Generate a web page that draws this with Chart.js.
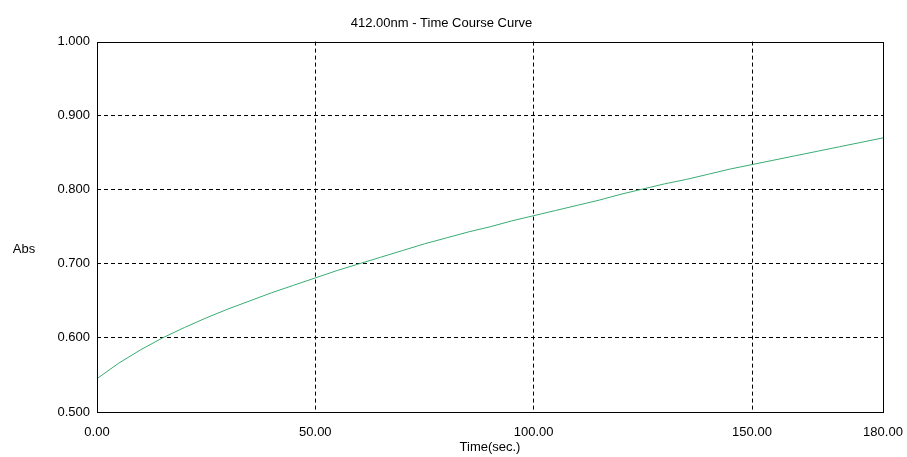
<!DOCTYPE html>
<html>
<head>
<meta charset="utf-8">
<script src="https://cdn.jsdelivr.net/npm/chart.js@4.4.1/dist/chart.umd.min.js"></script>
<style>
  body { margin: 0; background: #fff; }
  #chart { display: block; }
</style>
</head>
<body>
<canvas id="chart" width="907" height="457"></canvas>
<script>
// Datos (tiempo en s, absorbancia)
var tiempos = [0, 5, 10, 15, 20, 25, 30, 35, 40, 45, 50, 55, 60, 65, 70, 75, 80, 85, 90,
    95, 100, 105, 110, 115, 120, 125, 130, 135, 140, 145, 150, 155, 160, 165, 170, 175, 180];
var absorbancia = [0.545, 0.566, 0.584, 0.600, 0.614, 0.627, 0.639, 0.650, 0.661, 0.671,
    0.681, 0.691, 0.700, 0.709, 0.718, 0.727, 0.735, 0.743, 0.750, 0.758, 0.765, 0.772,
    0.779, 0.786, 0.794, 0.801, 0.808, 0.814, 0.821, 0.828, 0.834, 0.840, 0.846, 0.852,
    0.858, 0.864, 0.870];
var ticksX = [0, 50, 100, 150, 180];
var ticksY = [0.5, 0.6, 0.7, 0.8, 0.9, 1.0];

var titulo = "412.00nm - Time Course Curve";
var tituloX = "Time(sec.)";
var tituloY = "Abs";

var fuente = "'Liberation Sans', Arial, sans-serif";

// Marco negro del area y etiqueta "Abs" horizontal
var marco = {
    id: "marco",
    afterDraw: function (chart) {
        var a = chart.chartArea;
        var ctx = chart.ctx;
        ctx.save();
        ctx.strokeStyle = "#000";
        ctx.lineWidth = 1;
        ctx.strokeRect(Math.round(a.left) + 0.5, Math.round(a.top) + 0.5,
            Math.round(a.right - a.left), Math.round(a.bottom - a.top));
        ctx.fillStyle = "#000";
        ctx.font = "13px " + fuente;
        ctx.textAlign = "center";
        ctx.textBaseline = "middle";
        ctx.fillText(tituloY, 24, 249);
        ctx.restore();
    }
};

var puntos = tiempos.map((t, i) => ({x: t, y: absorbancia[i]}));

var ctx = document.getElementById("chart").getContext("2d");
var chart = new Chart(ctx, {
    type: "line",
    data: {
        datasets: [{
            data: puntos,
            borderColor: "#3aac74",
            borderWidth: 1,
            pointRadius: 0,
            tension: 0,
            fill: false
        }]
    },
    options: {
        responsive: false,
        animation: false,
        layout: { padding: { left: 0, right: 24, top: 0, bottom: 0 } },
        plugins: {
            legend: { display: false },
            tooltip: { enabled: false },
            title: {
                display: true,
                text: titulo,
                color: "#000",
                font: { family: fuente, size: 13, weight: "normal" },
                padding: { top: 16, bottom: 10 }
            }
        },
        scales: {
            x: {
                type: "linear",
                min: 0,
                max: 180,
                afterBuildTicks: s => { s.ticks = ticksX.map(v => ({value: v})); },
                afterFit: s => { s.height = 45; s.paddingRight = 0; s.paddingLeft = 0; },
                ticks: {
                    color: "#000",
                    padding: 13,
                    maxRotation: 0,
                    font: { family: fuente, size: 13 },
                    callback: v => Number(v).toFixed(2)
                },
                grid: {
                    drawTicks: false,
                    color: c => (c.tick && (c.tick.value === 0 || c.tick.value === 180)) ? "rgba(0,0,0,0)" : "#000",
                    lineWidth: 1
                },
                border: { display: false, dash: [4, 3] },
                title: {
                    display: true,
                    text: tituloX,
                    color: "#000",
                    font: { family: fuente, size: 13 },
                    padding: { top: 0, bottom: 2 }
                }
            },
            y: {
                min: 0.5,
                max: 1.0,
                afterBuildTicks: s => { s.ticks = ticksY.map(v => ({value: v})); },
                afterFit: s => { s.width = 97; },
                ticks: {
                    color: "#000",
                    padding: 7,
                    font: { family: fuente, size: 13 },
                    callback: v => Number(v).toFixed(3)
                },
                grid: {
                    drawTicks: false,
                    color: c => (c.tick && (Math.abs(c.tick.value - 0.5) < 1e-6 || Math.abs(c.tick.value - 1) < 1e-6)) ? "rgba(0,0,0,0)" : "#000",
                    lineWidth: 1
                },
                border: { display: false, dash: [4, 3] }
            }
        }
    },
    plugins: [marco]
});
</script>
</body>
</html>
